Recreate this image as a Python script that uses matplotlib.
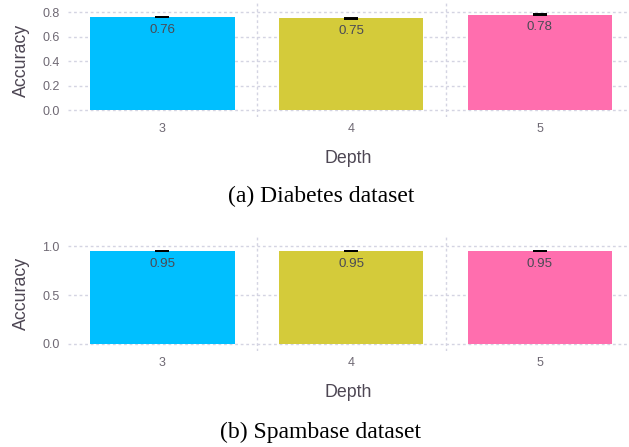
import matplotlib

matplotlib.use("Agg")
import matplotlib.pyplot as plt
from matplotlib.ticker import FixedLocator

# ---- data ----
DEPTHS = ["3", "4", "5"]
DIABETES_ACC = [0.76, 0.75, 0.78]
DIABETES_ERR = [0.002, 0.002, 0.002]
SPAMBASE_ACC = [0.95, 0.95, 0.95]
SPAMBASE_ERR = [0.002, 0.002, 0.002]
CAPTIONS = ["(a) Diabetes dataset", "(b) Spambase dataset"]

# ---- style ----
COLORS = ["#00BFFF", "#D4CB3A", "#FF6EAE"]
GRID = "#d4d4e2"
TICK_TEXT = "#6e6873"
LABEL_TEXT = "#4e4754"
VALUE_TEXT = "#4a4a55"
W, H = 629, 447


def panel(fig, rect, vals, errs, ylim, yticks, fmt):
    ax = fig.add_axes(rect)
    xs = list(range(len(DEPTHS)))
    ax.bar(xs, vals, 0.765, color=COLORS, zorder=2)
    ax.errorbar(xs, vals, yerr=errs, fmt="none", ecolor="black",
                elinewidth=1.2, capsize=4.7, capthick=1.4, zorder=3)
    for x, v in zip(xs, vals):
        ax.annotate(f"{v:.2f}", (x, v), xytext=(0, -9), textcoords="offset points",
                    ha="center", va="center", fontsize=9.6, color=VALUE_TEXT,
                    family="Liberation Sans", zorder=4)
    ax.set_xlim(-0.5, 2.472)
    ax.set_ylim(*ylim)
    ax.set_yticks(yticks)
    ax.set_yticklabels([fmt.format(t) for t in yticks])
    ax.set_xticks(xs)
    ax.set_xticklabels(DEPTHS)
    ax.xaxis.set_minor_locator(FixedLocator([0.5, 1.5]))
    ax.yaxis.grid(True, which="major", color=GRID, linestyle=(0, (2, 2)), linewidth=1.0, zorder=0)
    ax.xaxis.grid(True, which="minor", color=GRID, linestyle=(0, (2, 2)), linewidth=1.0, zorder=0)
    ax.set_axisbelow(True)
    for s in ax.spines.values():
        s.set_visible(False)
    ax.tick_params(axis="both", which="both", length=0)
    ax.tick_params(axis="x", pad=4, labelsize=9, labelcolor=TICK_TEXT)
    ax.tick_params(axis="y", pad=6, labelsize=9, labelcolor=TICK_TEXT)
    for lbl in ax.get_xticklabels() + ax.get_yticklabels():
        lbl.set_family("Liberation Sans")
    ax.set_ylabel("Accuracy", fontsize=12.8, color=LABEL_TEXT, family="Liberation Sans", labelpad=9)
    ax.set_xlabel("Depth", fontsize=12.8, color=LABEL_TEXT, family="Liberation Sans", labelpad=11)
    return ax


fig = plt.figure(figsize=(W / 100, H / 100), dpi=100)
fig.patch.set_facecolor("white")

# top panel: axes from y=3px to y=117px
panel(fig, [68 / W, 1 - 117 / H, (W - 68) / W, 114 / H],
      DIABETES_ACC, DIABETES_ERR, (-0.0573, 0.876), [0.0, 0.2, 0.4, 0.6, 0.8], "{:.1f}")
# bottom panel: axes from y=236.7px to y=351px
panel(fig, [68 / W, 1 - 351 / H, (W - 68) / W, 114.3 / H],
      SPAMBASE_ACC, SPAMBASE_ERR, (-0.075, 1.099), [0.0, 0.5, 1.0], "{:.1f}")

fig.text(321 / W, 1 - 196 / H, CAPTIONS[0], ha="center", va="center",
         fontsize=17, family="Liberation Serif", color="black")
fig.text(321 / W, 1 - 432 / H, CAPTIONS[1], ha="center", va="center",
         fontsize=17, family="Liberation Serif", color="black")

fig.savefig("out.png", dpi=100, facecolor="white")
